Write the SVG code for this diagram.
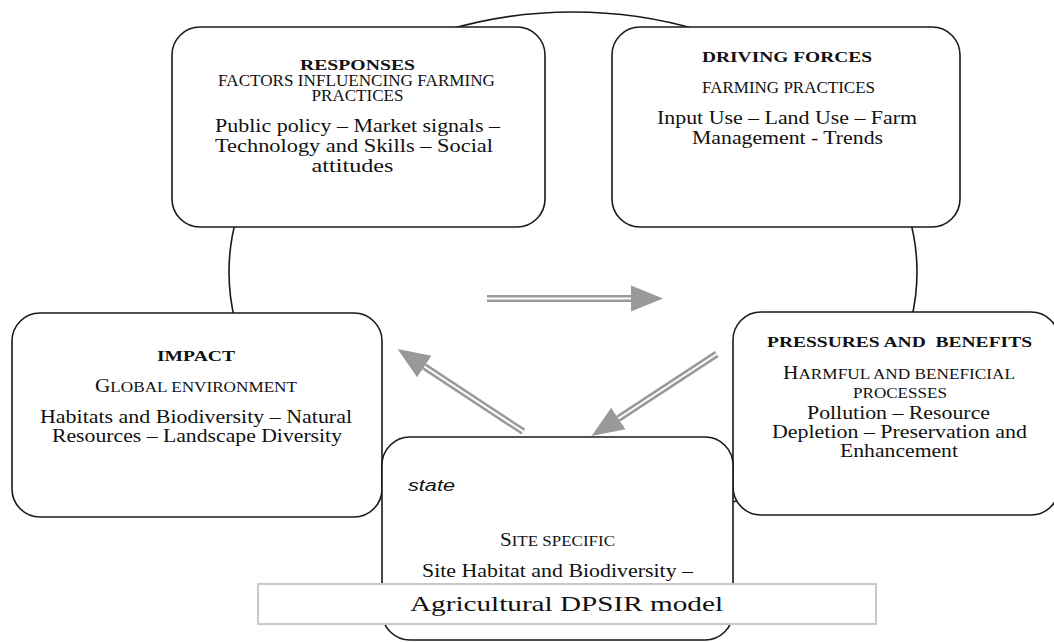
<svg xmlns="http://www.w3.org/2000/svg" width="1054" height="642" viewBox="0 0 1054 642">
<style>
.bg{fill:#fff}
.ring{fill:none;stroke:#1a1a1a;stroke-width:1.6}
.box{fill:#fff;stroke:#1a1a1a;stroke-width:1.6}
.cap{fill:#fff;stroke:#c8c8c8;stroke-width:2}
text{font-family:"Liberation Serif","Times New Roman",serif;fill:#111;text-anchor:middle}
.h{font-weight:bold;font-size:14px}
.u{font-size:16px}
.sc{font-size:14.5px}
.ini{font-size:18px}
.b{font-size:18.5px}
.st{font-family:"Liberation Sans",Arial,sans-serif;font-style:italic;font-size:16px;text-anchor:start}
.ttl{font-size:22px}
.sh{fill:none;stroke:#9a9a9a;stroke-width:7}
.sw{fill:none;stroke:#fff;stroke-width:2}
</style>
<defs>
<marker id="head" markerUnits="userSpaceOnUse" markerWidth="33" markerHeight="27" viewBox="0 -13.5 33 27" refX="0" refY="0" orient="auto">
<path d="M0,-13 L32,0 L0,13 z" fill="#999"/>
</marker>
</defs>
<rect class="bg" width="1054" height="642"/>
<ellipse class="ring" cx="573" cy="272" rx="344" ry="260"/>

<g id="responses">
<rect class="box" x="172" y="27" width="373" height="200" rx="28"/>
<text class="h" x="357.5" y="70" textLength="115" lengthAdjust="spacingAndGlyphs">RESPONSES</text>
<text class="u" x="356.5" y="85.5" textLength="277" lengthAdjust="spacingAndGlyphs">FACTORS INFLUENCING FARMING</text>
<text class="u" x="357.5" y="100.5" textLength="92" lengthAdjust="spacingAndGlyphs">PRACTICES</text>
<text class="b" x="357.5" y="131.5" textLength="285" lengthAdjust="spacingAndGlyphs">Public policy – Market signals –</text>
<text class="b" x="354" y="151.5" textLength="278" lengthAdjust="spacingAndGlyphs">Technology and Skills – Social</text>
<text class="b" x="352.5" y="171.5" textLength="82" lengthAdjust="spacingAndGlyphs">attitudes</text>
</g>

<g id="driving-forces">
<rect class="box" x="612" y="27" width="348" height="200" rx="28"/>
<text class="h" x="787" y="61.5" textLength="170" lengthAdjust="spacingAndGlyphs">DRIVING FORCES</text>
<text class="u" x="788.5" y="92.5" textLength="173" lengthAdjust="spacingAndGlyphs">FARMING PRACTICES</text>
<text class="b" x="787" y="124" textLength="260" lengthAdjust="spacingAndGlyphs">Input Use – Land Use – Farm</text>
<text class="b" x="787.5" y="143.5" textLength="191" lengthAdjust="spacingAndGlyphs">Management - Trends</text>
</g>

<g id="impact">
<rect class="box" x="12" y="313" width="370" height="204" rx="28"/>
<text class="h" x="196" y="360.5" textLength="78" lengthAdjust="spacingAndGlyphs">IMPACT</text>
<text class="sc" x="196" y="391.5" textLength="202" lengthAdjust="spacingAndGlyphs"><tspan class="ini">G</tspan>LOBAL ENVIRONMENT</text>
<text class="b" x="196" y="422.5" textLength="312" lengthAdjust="spacingAndGlyphs">Habitats and Biodiversity – Natural</text>
<text class="b" x="197" y="441.5" textLength="290" lengthAdjust="spacingAndGlyphs">Resources – Landscape Diversity</text>
</g>

<g id="pressures-and-benefits">
<rect class="box" x="733" y="312" width="326" height="203" rx="28"/>
<text class="h" x="899.5" y="346.5" textLength="265" lengthAdjust="spacingAndGlyphs" xml:space="preserve">PRESSURES AND  BENEFITS</text>
<text class="sc" x="899" y="378.5" textLength="232" lengthAdjust="spacingAndGlyphs"><tspan class="ini">H</tspan>ARMFUL AND BENEFICIAL</text>
<text class="sc" x="900" y="397.5" textLength="94" lengthAdjust="spacingAndGlyphs">PROCESSES</text>
<text class="b" x="898.5" y="418.5" textLength="183" lengthAdjust="spacingAndGlyphs">Pollution – Resource</text>
<text class="b" x="899.5" y="437.5" textLength="255" lengthAdjust="spacingAndGlyphs">Depletion – Preservation and</text>
<text class="b" x="899" y="456.5" textLength="118" lengthAdjust="spacingAndGlyphs">Enhancement</text>
</g>

<g id="state">
<rect class="box" x="382" y="437" width="351" height="203" rx="28"/>
<text class="st" x="408" y="490.5" textLength="47" lengthAdjust="spacingAndGlyphs">state</text>
<text class="sc" x="557.5" y="546" textLength="115" lengthAdjust="spacingAndGlyphs"><tspan class="ini">S</tspan>ITE SPECIFIC</text>
<text class="b" x="557.5" y="576.5" textLength="271" lengthAdjust="spacingAndGlyphs">Site Habitat and Biodiversity –</text>
</g>

<g id="connectors">
<line class="sh" x1="487" y1="298.5" x2="631" y2="298.5" marker-end="url(#head)"/>
<line class="sw" x1="487" y1="298.5" x2="631" y2="298.5"/>
<line class="sh" x1="523.3" y1="431.7" x2="424.3" y2="366.5" marker-end="url(#head)"/>
<line class="sw" x1="523.3" y1="431.7" x2="424.3" y2="366.5"/>
<line class="sh" x1="716.7" y1="354" x2="618.4" y2="418.5" marker-end="url(#head)"/>
<line class="sw" x1="716.7" y1="354" x2="618.4" y2="418.5"/>
</g>

<g id="caption">
<rect class="cap" x="258" y="584" width="618" height="40"/>
<text class="ttl" x="566.5" y="610.5" textLength="313" lengthAdjust="spacingAndGlyphs">Agricultural DPSIR model</text>
</g>
</svg>
